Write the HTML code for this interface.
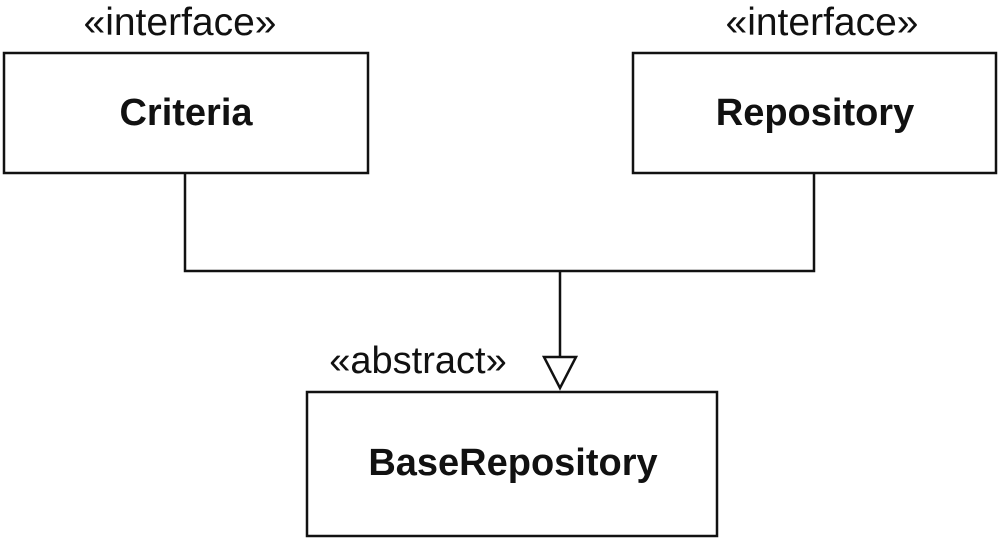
<!DOCTYPE html>
<html><head><style>
html,body{margin:0;padding:0;background:#fff;}
svg{display:block;}
text{font-family:"Liberation Sans",Arial,sans-serif;fill:#111;}
</style></head><body>
<svg width="1000" height="541" viewBox="0 0 1000 541" xmlns="http://www.w3.org/2000/svg">
<g fill="none" stroke="#111" stroke-width="2.5">
<rect x="4" y="53" width="364" height="120"/>
<rect x="633" y="53" width="363" height="120"/>
<rect x="307" y="392" width="410" height="144"/>
<polyline points="185,173 185,271 814,271 814,173"/>
<line x1="560" y1="271" x2="560" y2="357"/>
<polygon points="544,357 576,357 560,388"/>
</g>
<text x="180" y="35" font-size="39" text-anchor="middle">«interface»</text>
<text x="822" y="35" font-size="39" text-anchor="middle">«interface»</text>
<text x="186" y="125" font-size="38" font-weight="bold" text-anchor="middle">Criteria</text>
<text x="815" y="125" font-size="38" font-weight="bold" text-anchor="middle">Repository</text>
<text x="418" y="373" font-size="38" text-anchor="middle">«abstract»</text>
<text x="513" y="475" font-size="38" font-weight="bold" text-anchor="middle">BaseRepository</text>
</svg>
</body></html>
